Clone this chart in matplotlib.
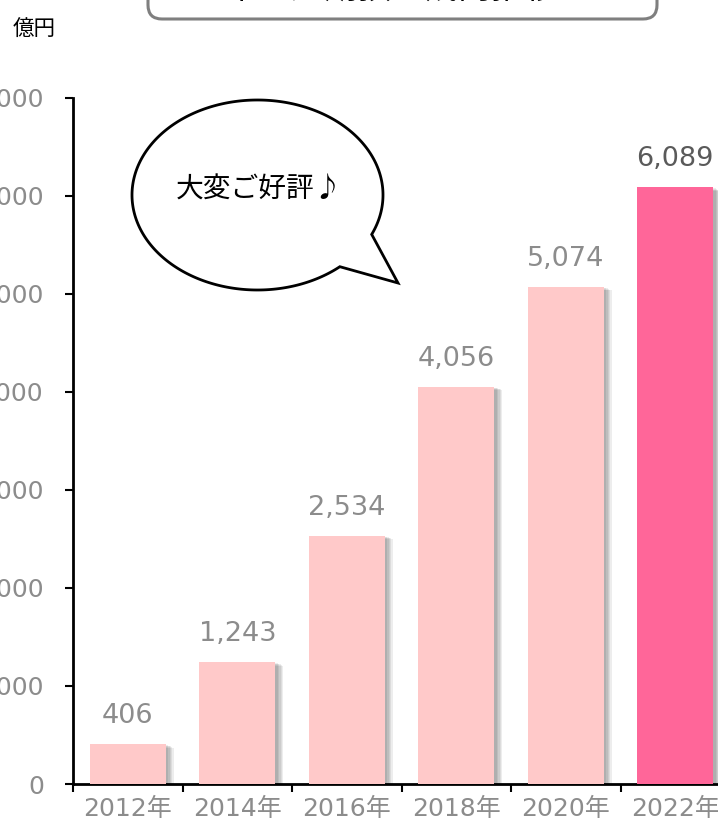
import numpy as np
import matplotlib
matplotlib.use("Agg")
import matplotlib.pyplot as plt
from matplotlib.patches import Polygon, FancyBboxPatch
from matplotlib import patheffects as pe

plt.rcParams['font.family'] = ['DejaVu Sans', 'Noto Sans CJK JP']

# data
years = ["2012年", "2014年", "2016年", "2018年", "2020年", "2022年"]
balances = [406, 1243, 2534, 4056, 5074, 6089]
yticks = [0, 1000, 2000, 3000, 4000, 5000, 6000, 7000]
title = "中型定期預金残高推移"
unit = "億円"
bubble_text = "大変ご好評♪"

NUM_FONT = ['DejaVu Sans', 'Noto Sans CJK JP']
JP_FONT = ['Noto Sans CJK JP', 'DejaVu Sans']
GREY = "#8C8C8C"

W, H = 718, 824
fig = plt.figure(figsize=(W / 100, H / 100), dpi=100)
fig.patch.set_facecolor("white")

# main axes (right side extends slightly past the canvas)
ax = fig.add_axes([73 / W, 1 - 784 / H, (730 - 73) / W, (784 - 98) / H])
ax.set_xlim(0, len(years))
ax.set_ylim(0, 7000)

colors = ["#FFC9C9"] * (len(years) - 1) + ["#FF6699"]
xs = [i + 0.5 for i in range(len(years))]

shadow = [pe.SimplePatchShadow(offset=(d, -d * 0.4), shadow_rgbFace="#000000", alpha=0.07)
          for d in (2, 3, 4, 5, 6)]
bars = ax.bar(xs, balances, width=0.69, color=colors, zorder=3)
for b in bars:
    b.set_path_effects(shadow + [pe.Normal()])

for i, (x, v) in enumerate(zip(xs, balances)):
    last = i == len(balances) - 1
    ax.annotate(f"{v:,}", (x, v), xytext=(0, 15), textcoords="offset points",
                ha="center", va="baseline", fontsize=19.5, family=NUM_FONT,
                color="#5A5A5A" if last else GREY, zorder=5)

ax.set_xticks(range(len(years) + 1))
ax.set_xticklabels([])
ax.set_xticks(xs, minor=True)
ax.set_xticklabels(years, minor=True, fontsize=18, color=GREY, family=NUM_FONT)
ax.tick_params(axis="x", which="major", length=6, width=1.5, direction="out")
ax.tick_params(axis="x", which="minor", length=0, pad=9)

ax.set_yticks(yticks)
ax.set_yticklabels([f"{t:,}" for t in yticks], fontsize=18, color=GREY, family=NUM_FONT)
ax.tick_params(axis="y", length=6, width=1.5, pad=15)

for s in ("top", "right"):
    ax.spines[s].set_visible(False)
for s in ("left", "bottom"):
    ax.spines[s].set_linewidth(2)
    ax.spines[s].set_color("black")

# overlay in pixel coordinates for the callouts
ov = fig.add_axes([0, 0, 1, 1], zorder=10)
ov.set_xlim(0, W)
ov.set_ylim(H, 0)
ov.axis("off")
ov.patch.set_alpha(0)

ov.text(34, 30, unit, ha="center", va="center", fontsize=15.5, color="black", family=JP_FONT)

box = FancyBboxPatch((148, -80), 657 - 148, 99, boxstyle="round,pad=0,rounding_size=14",
                     facecolor="white", edgecolor="#7F7F7F", linewidth=2.2, clip_on=False)
ov.add_patch(box)
ov.text(392, -12, title, ha="center", va="center", fontsize=24, color="black", family=JP_FONT)

# speech bubble: ellipse outline with a tail spliced in
cx, cy, a, b = 257.5, 195, 125.5, 95
t0, t1 = np.deg2rad(49), np.deg2rad(24.5 + 360)
t = np.linspace(t0, t1, 300)
pts = np.column_stack([cx + a * np.cos(t), cy + b * np.sin(t)])
pts = np.vstack([pts, [[398, 283]]])
bubble = Polygon(pts, closed=True, facecolor="white", edgecolor="black",
                 linewidth=2, joinstyle="miter")
ov.add_patch(bubble)
ov.text(259, 190, bubble_text, ha="center", va="center", fontsize=20, color="black",
        family=JP_FONT)

fig.savefig("out.png", dpi=100, facecolor="white")
